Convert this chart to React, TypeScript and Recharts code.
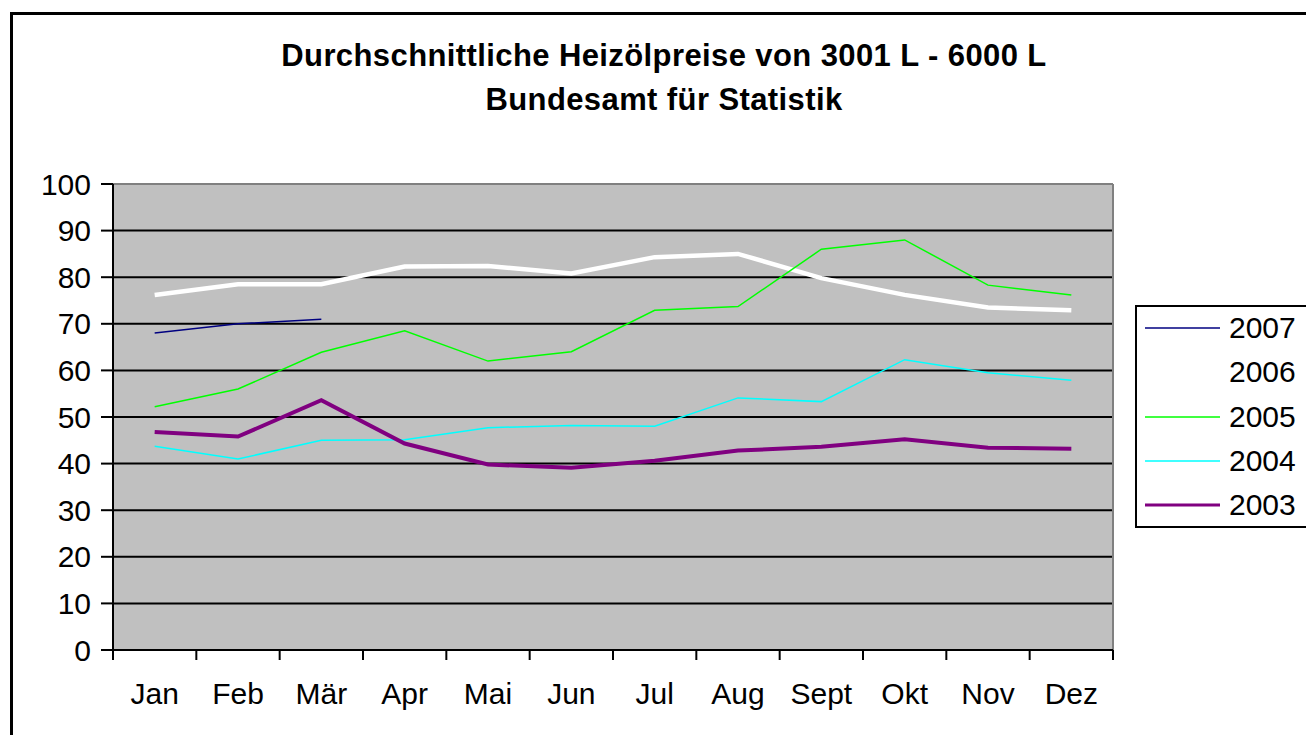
import React from 'react'
import {
  LineChart,
  Line,
  XAxis,
  YAxis,
  CartesianGrid,
  Legend,
  ReferenceLine,
} from 'recharts'

// Monthly values (price per 100 L)
const months = ['Jan', 'Feb', 'Mär', 'Apr', 'Mai', 'Jun', 'Jul', 'Aug', 'Sept', 'Okt', 'Nov', 'Dez']
const prices2007 = [68.0, 70.0, 71.0, null, null, null, null, null, null, null, null, null]
const prices2006 = [76.2, 78.5, 78.5, 82.3, 82.4, 80.8, 84.3, 85.0, 79.8, 76.2, 73.5, 72.9]
const prices2005 = [52.2, 56.0, 63.9, 68.5, 62.0, 64.0, 72.9, 73.7, 86.0, 88.0, 78.3, 76.2]
const prices2004 = [43.7, 41.0, 45.0, 45.1, 47.7, 48.2, 48.0, 54.1, 53.3, 62.3, 59.5, 57.9]
const prices2003 = [46.8, 45.8, 53.6, 44.3, 39.8, 39.1, 40.6, 42.8, 43.6, 45.2, 43.4, 43.2]
const yTicks = [0, 10, 20, 30, 40, 50, 60, 70, 80, 90, 100]
const gridValues = [10, 20, 30, 40, 50, 60, 70, 80, 90]
const titleLines = ['Durchschnittliche Heizölpreise von 3001 L - 6000 L', 'Bundesamt für Statistik']

const FONT = '"Liberation Sans", Arial, sans-serif'
const PLOT_LEFT = 113
const PLOT_RIGHT = 1113
const BAND = (PLOT_RIGHT - PLOT_LEFT) / months.length

const series = [
  { key: 'y2007', name: '2007', color: '#000080', width: 1.5 },
  { key: 'y2006', name: '2006', color: '#FFFFFF', width: 4.5 },
  { key: 'y2005', name: '2005', color: '#00FF00', width: 1.5 },
  { key: 'y2004', name: '2004', color: '#00FFFF', width: 1.5 },
  { key: 'y2003', name: '2003', color: '#800080', width: 4 },
]

// category boundaries 0..12, points sit in the middle of each band
const boundaryTicks = months.map((_, i) => i).concat(months.length)

const data = months.map((month, i) => ({
  month,
  pos: i + 0.5,
  y2007: prices2007[i],
  y2006: prices2006[i],
  y2005: prices2005[i],
  y2004: prices2004[i],
  y2003: prices2003[i],
}))

// month label drawn centred between two boundary ticks
const MonthTick = ({ x, y, payload }: any) => {
  const label = months[payload.value]
  if (!label) return null
  return (
    <text x={x + BAND / 2} y={y + 42} textAnchor="middle" fill="#000" fontSize={30} fontFamily={FONT}>
      {label}
    </text>
  )
}

const LegendBox = () => (
  <div
    style={{
      position: 'relative',
      width: 200,
      height: 223,
      boxSizing: 'border-box',
      border: '2px solid #000',
      background: '#fff',
      fontFamily: FONT,
    }}
  >
    {series.map((s, i) => (
      <div key={s.key} style={{ position: 'absolute', left: 8, top: 21 + i * 44.3 - 22, height: 44, width: 180 }}>
        <svg width={80} height={44} style={{ position: 'absolute', left: 0, top: 0 }}>
          <line x1={0} x2={75} y1={22} y2={22} stroke={s.color} strokeWidth={s.width > 3 ? 3 : 1.5} />
        </svg>
        <span style={{ position: 'absolute', left: 84, top: 5, fontSize: 30, lineHeight: '34px', color: '#000' }}>
          {s.name}
        </span>
      </div>
    ))}
  </div>
)

export default function App() {
  return (
    <div style={{ position: 'absolute', left: 0, top: 0, width: 1306, height: 735, overflow: 'hidden', background: '#fff' }}>
      <div
        style={{
          position: 'absolute',
          left: 10,
          top: 12,
          width: 1400,
          height: 800,
          border: '3px solid #000',
        }}
      />
      <div
        style={{
          position: 'absolute',
          left: 0,
          top: 34,
          width: 1328,
          textAlign: 'center',
          fontFamily: FONT,
          fontWeight: 'bold',
          fontSize: 31,
          lineHeight: '44px',
          letterSpacing: 0.4,
          color: '#000',
        }}
      >
        {titleLines.map((t) => (
          <div key={t}>{t}</div>
        ))}
      </div>
      <div style={{ position: 'absolute', left: 0, top: 0 }}>
        <LineChart
          width={1306}
          height={735}
          data={data}
          margin={{ top: 184, right: 1306 - PLOT_RIGHT, bottom: 0, left: 0 }}
        >
          <CartesianGrid
            vertical={false}
            horizontalValues={gridValues}
            fill="#C0C0C0"
            fillOpacity={1}
            stroke="#000"
            strokeWidth={2}
          />
          <ReferenceLine y={100} stroke="#808080" strokeWidth={2} />
          <ReferenceLine x={12} stroke="#808080" strokeWidth={2} />
          <XAxis
            type="number"
            dataKey="pos"
            domain={[0, 12]}
            ticks={boundaryTicks}
            interval={0}
            height={85}
            tickSize={10}
            axisLine={{ stroke: '#000', strokeWidth: 2 }}
            tickLine={{ stroke: '#000', strokeWidth: 2 }}
            tick={<MonthTick />}
          />
          <YAxis
            domain={[0, 100]}
            ticks={yTicks}
            interval={0}
            width={PLOT_LEFT}
            tickSize={12}
            tickMargin={10}
            axisLine={{ stroke: '#000', strokeWidth: 2 }}
            tickLine={{ stroke: '#000', strokeWidth: 2 }}
            tick={{ fill: '#000', fontSize: 30, fontFamily: FONT }}
          />
          <Legend
            layout="vertical"
            align="center"
            verticalAlign="middle"
            wrapperStyle={{ left: 1135, top: 305, width: 200, height: 223 }}
            content={() => <LegendBox />}
          />
          {series.map((s) => (
            <Line
              key={s.key}
              type="linear"
              dataKey={s.key}
              name={s.name}
              stroke={s.color}
              strokeWidth={s.width}
              dot={false}
              activeDot={false}
              isAnimationActive={false}
            />
          ))}
        </LineChart>
      </div>
    </div>
  )
}
